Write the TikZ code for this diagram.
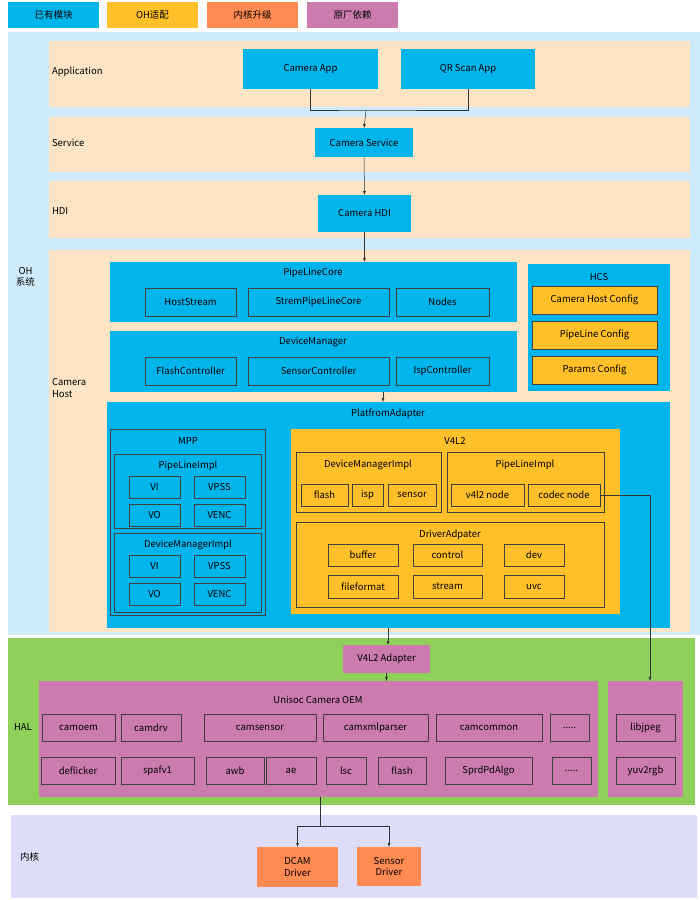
\documentclass[tikz,border=0pt]{standalone}
\usepackage{fontspec}
\setmainfont{Noto Sans CJK SC}
\usetikzlibrary{arrows.meta, positioning}
\definecolor{ohblue}{HTML}{00B4EC}
\definecolor{ohyellow}{HTML}{FFC02A}
\definecolor{ohorange}{HTML}{FF8A52}
\definecolor{ohpink}{HTML}{CB7BAE}
\definecolor{ohsky}{HTML}{CFEBFB}
\definecolor{ohpeach}{HTML}{FCE4C5}
\definecolor{ohgreen}{HTML}{8FD05A}
\definecolor{ohlav}{HTML}{DDDDFA}
\tikzstyle{line} = [draw, -{Latex[length=4pt,width=3pt]}, line width=0.5pt, black!80]
% box: name, x1, y1, x2, y2, style, text
\newcommand{\bx}[7]{\node[#6, minimum width={(#4-#2)*1pt}, minimum height={(#5-#3)*1pt}] (#1) at ({(#2+#4)/2},{(#3+#5)/2}) {#7};}

\begin{document}
\begin{tikzpicture}[x=1pt, y=-1pt, font=\fontsize{9.5}{11.5}\selectfont,
    every node/.style={inner sep=0pt, outer sep=0pt, align=center},
    band/.style={fill=#1, draw=none},
    mod/.style={fill=#1, draw=none},
    sub/.style={fill=#1, draw=black!75, line width=0.5pt},
    ttl/.style={anchor=center}]

    \useasboundingbox (0,0) rectangle (700,900);

    % legend
    \bx{lgA}{8}{2}{99}{28}{mod=ohblue}{已有模块}
    \bx{lgB}{107}{2}{198}{28}{mod=ohyellow}{OH适配}
    \bx{lgC}{207}{2}{298}{28}{mod=ohorange}{内核升级}
    \bx{lgD}{307}{2}{398}{28}{mod=ohpink}{原厂依赖}

    % layers
    \bx{oh}{8}{32}{700}{635}{band=ohsky}{}
    \bx{app}{49}{41}{690}{107}{band=ohpeach}{}
    \bx{srv}{49}{117}{690}{172}{band=ohpeach}{}
    \bx{hdi}{49}{181}{690}{238}{band=ohpeach}{}
    \bx{host}{49}{250}{690}{632}{band=ohpeach}{}
    \bx{hal}{8}{638}{695}{805}{band=ohgreen}{}
    \bx{kern}{11}{815}{697}{898}{band=ohlav}{}

    \node[anchor=west] (tOH) at (16,277) {OH\\系统};
    \node[anchor=west] (tApp) at (52,72) {Application};
    \node[anchor=west] (tSrv) at (52,143) {Service};
    \node[anchor=west] (tHdi) at (52,211) {HDI};
    \node[anchor=west, align=left] (tHost) at (52,388) {Camera\\Host};
    \node[anchor=west] (tHal) at (14,727) {HAL};
    \node[anchor=west] (tKern) at (20,857) {内核};

    % upper modules
    \bx{camApp}{243}{49}{378}{89}{mod=ohblue}{Camera App}
    \bx{qrApp}{401}{49}{535}{89}{mod=ohblue}{QR Scan App}
    \bx{camSrv}{315}{128}{413}{157}{mod=ohblue}{Camera Service}
    \bx{camHdi}{318}{195}{411}{232}{mod=ohblue}{Camera HDI}

    % camera host
    \bx{plCore}{110}{262}{517}{322}{mod=ohblue}{}
    \node (tPlCore) at (313,273) {PipeLineCore};
    \bx{hStream}{145}{288}{236}{316}{sub=ohblue}{HostStream}
    \bx{spCore}{248}{288}{389}{316}{sub=ohblue}{StremPipeLineCore}
    \bx{nodes}{396}{288}{489}{316}{sub=ohblue}{Nodes}

    \bx{devMgr}{110}{331}{517}{392}{mod=ohblue}{}
    \node (tDevMgr) at (313,342) {DeviceManager};
    \bx{flashCtl}{145}{357}{236}{385}{sub=ohblue}{FlashController}
    \bx{sensorCtl}{248}{357}{389}{385}{sub=ohblue}{SensorController}
    \bx{ispCtl}{396}{357}{489}{385}{sub=ohblue}{IspController}

    \bx{hcs}{528}{264}{670}{391}{mod=ohblue}{}
    \node (tHcs) at (599,277) {HCS};
    \bx{hostCfg}{532}{286}{657}{314}{sub=ohyellow}{Camera Host Config}
    \bx{plCfg}{532}{321}{657}{349}{sub=ohyellow}{PipeLine Config}
    \bx{parCfg}{532}{356}{657}{384}{sub=ohyellow}{Params Config}

    \bx{plat}{107}{402}{670}{628}{mod=ohblue}{}
    \node (tPlat) at (388,414) {PlatfromAdapter};

    % MPP
    \bx{mpp}{110}{429}{265}{615}{sub=ohblue}{}
    \node (tMpp) at (188,441) {MPP};
    \bx{mppPl}{114}{454}{261}{528}{sub=ohblue}{}
    \node (tMppPl) at (188,466) {PipeLineImpl};
    \bx{plVi}{129}{476}{180}{498}{sub=ohblue}{VI}
    \bx{plVpss}{194}{476}{245}{498}{sub=ohblue}{VPSS}
    \bx{plVo}{129}{504}{180}{526}{sub=ohblue}{VO}
    \bx{plVenc}{194}{504}{245}{526}{sub=ohblue}{VENC}
    \bx{mppDm}{114}{533}{261}{612}{sub=ohblue}{}
    \node (tMppDm) at (188,545) {DeviceManagerImpl};
    \bx{dmVi}{129}{555}{180}{577}{sub=ohblue}{VI}
    \bx{dmVpss}{194}{555}{245}{577}{sub=ohblue}{VPSS}
    \bx{dmVo}{129}{583}{180}{605}{sub=ohblue}{VO}
    \bx{dmVenc}{194}{583}{245}{605}{sub=ohblue}{VENC}

    % V4L2
    \bx{v4l2}{291}{429}{620}{614}{mod=ohyellow}{}
    \node (tV4l2) at (455,441) {V4L2};
    \bx{vDm}{296}{452}{441}{512}{sub=ohyellow}{}
    \node (tVDm) at (368,465) {DeviceManagerImpl};
    \bx{vFlash}{301}{484}{348}{506}{sub=ohyellow}{flash}
    \bx{vIsp}{352}{484}{383}{506}{sub=ohyellow}{isp}
    \bx{vSensor}{388}{484}{436}{506}{sub=ohyellow}{sensor}
    \bx{vPl}{447}{452}{604}{512}{sub=ohyellow}{}
    \node (tVPl) at (525,465) {PipeLineImpl};
    \bx{v4l2Node}{451}{484}{524}{506}{sub=ohyellow}{v4l2 node}
    \bx{codecNode}{528}{484}{600}{506}{sub=ohyellow}{codec node}
    \bx{drvAd}{296}{522}{604}{607}{sub=ohyellow}{}
    \node (tDrvAd) at (450,535) {DriverAdpater};
    \bx{dBuf}{328}{544}{398}{566}{sub=ohyellow}{buffer}
    \bx{dCtl}{413}{544}{482}{566}{sub=ohyellow}{control}
    \bx{dDev}{504}{544}{564}{566}{sub=ohyellow}{dev}
    \bx{dFmt}{328}{575}{398}{598}{sub=ohyellow}{fileformat}
    \bx{dStream}{413}{575}{482}{598}{sub=ohyellow}{stream}
    \bx{dUvc}{504}{575}{564}{598}{sub=ohyellow}{uvc}

    % HAL
    \bx{v4l2Ad}{343}{645}{430}{673}{mod=ohpink}{V4L2 Adapter}
    \bx{oem}{39}{681}{598}{797}{mod=ohpink}{}
    \node (tOem) at (318,700) {Unisoc Camera OEM};
    \bx{camoem}{42}{714}{115}{741}{sub=ohpink}{camoem}
    \bx{camdrv}{121}{714}{181}{741}{sub=ohpink}{camdrv}
    \bx{camsensor}{204}{714}{316}{741}{sub=ohpink}{camsensor}
    \bx{camxml}{323}{714}{428}{741}{sub=ohpink}{camxmlparser}
    \bx{camcommon}{436}{714}{542}{741}{sub=ohpink}{camcommon}
    \bx{moreA}{550}{714}{589}{741}{sub=ohpink}{.....}
    \bx{deflicker}{41}{757}{115}{784}{sub=ohpink}{deflicker}
    \bx{spafv}{121}{757}{194}{784}{sub=ohpink}{spafv1}
    \bx{awb}{206}{757}{264}{784}{sub=ohpink}{awb}
    \bx{ae}{266}{757}{316}{784}{sub=ohpink}{ae}
    \bx{lsc}{326}{757}{366}{784}{sub=ohpink}{lsc}
    \bx{hFlash}{378}{757}{426}{784}{sub=ohpink}{flash}
    \bx{pdAlgo}{445}{757}{532}{784}{sub=ohpink}{SprdPdAlgo}
    \bx{moreB}{552}{757}{591}{784}{sub=ohpink}{.....}
    \bx{libs}{608}{681}{683}{797}{mod=ohpink}{}
    \bx{libjpeg}{616}{714}{675}{741}{sub=ohpink}{libjpeg}
    \bx{yuv}{616}{757}{675}{784}{sub=ohpink}{yuv2rgb}

    % kernel
    \bx{dcam}{257}{847}{338}{887}{mod=ohorange}{DCAM\\Driver}
    \bx{sensDrv}{357}{847}{421}{886}{mod=ohorange}{Sensor\\Driver}

    % connectors
    \coordinate (jApp) at (366,110);
    \draw[black!80] (camApp.south) |- (jApp) -| (qrApp.south);
    \draw[line] (jApp) -- (camSrv.north);
    \draw[line] (camSrv.south) -- (camHdi.north);
    \draw[line] (camHdi.south) -- (camHdi.south |- plCore.north);
    \draw[line] (383,392) -- (383,402);
    \draw[line] (388,628) -- (388,645);
    \draw[line] (v4l2Ad.south) -- (v4l2Ad.south |- oem.north);
    \draw[line] (codecNode.east) -| (650,681);
    \coordinate (jKern) at (320,826);
    \draw[black!80] (320,797) -- (jKern);
    \draw[line] (jKern) -| (dcam.north);
    \draw[line] (jKern) -| (sensDrv.north);
\end{tikzpicture}
\end{document}
